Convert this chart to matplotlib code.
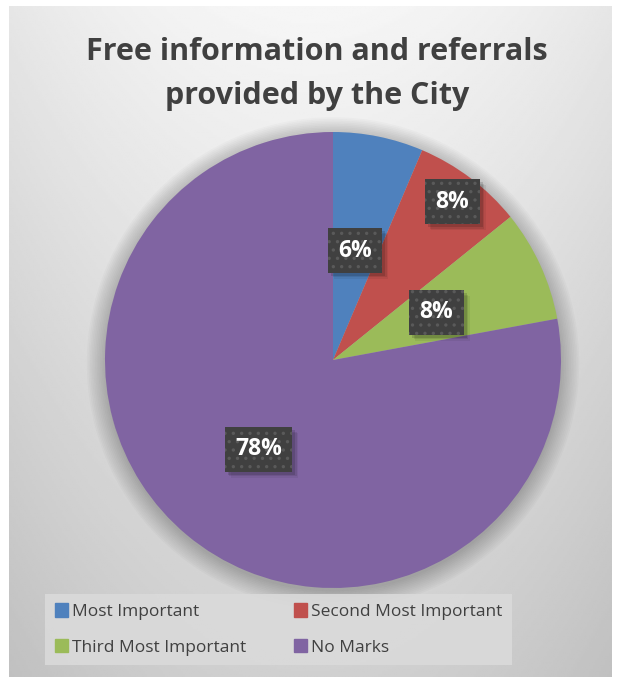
import matplotlib.pyplot as plt
import matplotlib.patches as mpatches
from matplotlib.transforms import IdentityTransform
import numpy as np

# data
categories = ['Most Important', 'Second Most Important', 'Third Most Important', 'No Marks']
shares = [6.4, 7.8, 7.9, 77.9]
pct_labels = ['6%', '8%', '8%', '78%']
colors = ['#4f81bd', '#c0504d', '#9bbb59', '#8064a2']

W, H = 617, 677
fig = plt.figure(figsize=(W / 100, H / 100), dpi=100)
fig.patch.set_facecolor('white')

# grey chart panel with soft gradient
bg = fig.add_axes([9 / W, 0, 603 / W, 671 / H])
yy, xx = np.mgrid[0:1:300j, -1:1:300j]
shade = 246 - 38 * yy - 16 * xx ** 2
bg.imshow(shade, cmap='gray', vmin=0, vmax=255, aspect='auto', extent=(0, 1, 0, 1), origin='upper')
bg.set_axis_off()

ax = fig.add_axes([105 / W, 89 / H, 456 / W, 456 / H])
ax.axis('off')

wedges, _ = ax.pie(shares, colors=colors, startangle=90, counterclock=False, radius=1,
                   wedgeprops=dict(linewidth=0))

# soft shadow around the pie
for r in np.linspace(1.0, 1.08, 12):
    ax.add_patch(mpatches.Circle((0.0, -0.015), r, color='black', alpha=0.018, lw=0,
                                 zorder=0, clip_on=False))

ax.set_xlim(-1, 1)
ax.set_ylim(-1, 1)
ax.set_aspect('equal')

plt.rcParams['hatch.color'] = '#5a5a5a'
plt.rcParams['hatch.linewidth'] = 1.2
label_r = [0.49, 0.87, 0.5, 0.51]
labels = []
for w, txt, lr in zip(wedges, pct_labels, label_r):
    ang = np.deg2rad((w.theta1 + w.theta2) / 2)
    x, y = lr * np.cos(ang), lr * np.sin(ang)
    t = ax.text(x, y, txt, ha='center', va='center', fontsize=16.5, fontweight='bold',
                color='white', family='Open Sans', zorder=5,
                bbox=dict(boxstyle='square,pad=0.45', fc='#404040', ec='#5a5a5a', lw=0, hatch='..'))
    labels.append(t)

fig.text(317 / W, 1 - 74 / H, 'Free information and referrals\nprovided by the City',
         ha='center', va='center', fontsize=22, fontweight='bold', color='#404040',
         family='Open Sans', linespacing=1.6)

handles = [mpatches.Patch(color=c) for c in colors]
order = [0, 2, 1, 3]
leg = fig.legend([handles[i] for i in order], [categories[i] for i in order],
                 ncol=2, loc='center', mode='expand', borderaxespad=0,
                 bbox_to_anchor=(45 / W, 10 / H, 467 / W, 75 / H),
                 frameon=True, fancybox=False, handlelength=0.75, handleheight=0.8,
                 handletextpad=0.25, borderpad=0.55, labelspacing=1.1,
                 prop=dict(family='Open Sans', size=12.5))
leg.get_frame().set_facecolor('#dadada')
leg.get_frame().set_edgecolor('none')
leg.get_frame().set_alpha(0.9)
for t in leg.get_texts():
    t.set_color('#404040')

# drop shadows behind the label boxes (pixel coordinates)
fig.canvas.draw()
for t in labels:
    ext = t.get_bbox_patch().get_window_extent()
    for k, a in [(6, 0.06), (4.5, 0.09), (3, 0.13)]:
        ax.add_patch(mpatches.Rectangle((ext.x0 + k, ext.y0 - k), ext.width, ext.height,
                                        transform=IdentityTransform(), fc='black', ec='none',
                                        alpha=a, zorder=4, clip_on=False))

fig.savefig('out.png', dpi=100)
